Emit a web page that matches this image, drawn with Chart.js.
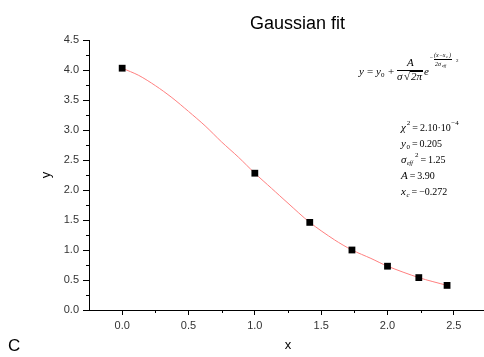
<!DOCTYPE html>
<html>
<head>
<meta charset="utf-8">
<script src="https://cdn.jsdelivr.net/npm/chart.js@4"></script>
<style>
  html, body { margin: 0; padding: 0; background: #fff; overflow: hidden; }
  #wrap { width: 492px; height: 357px; }
</style>
</head>
<body>
<div id="wrap"><canvas id="chart" width="492" height="357"></canvas></div>
<script>
// measured points (x = sqrt(n))
const pointX = [0, 1, 1.414, 1.732, 2, 2.236, 2.449];
const pointY = [4.03, 2.28, 1.46, 1.0, 0.73, 0.54, 0.41];

// fitted curve
const fitX = [0, 0.125, 0.25, 0.375, 0.5, 0.625, 0.75, 0.875, 1.0, 1.125, 1.25, 1.414, 1.6, 1.732, 1.875, 2.0, 2.236, 2.449];
const fitY = [4.03, 3.91, 3.74, 3.54, 3.31, 3.07, 2.80, 2.55, 2.28, 2.03, 1.78, 1.46, 1.17, 1.0, 0.86, 0.73, 0.54, 0.41];

const xTickValues = [0, 0.5, 1.0, 1.5, 2.0, 2.5];
const yTickValues = [0, 0.5, 1.0, 1.5, 2.0, 2.5, 3.0, 3.5, 4.0, 4.5];
const xTicksMinor = [0.25, 0.75, 1.25, 1.75, 2.25, 2.75];
const yTicksMinor = [0.25, 0.75, 1.25, 1.75, 2.25, 2.75, 3.25, 3.75, 4.25];

const SANS = '"Liberation Sans", Arial, sans-serif';
const SERIF = '"Liberation Serif", "Times New Roman", serif';

// petits traits + textes du graphique
const extras = {
    id: 'extras',
    afterDraw(chart) {
        const ctx = chart.ctx;
        const xs = chart.scales.x, ys = chart.scales.y;
        const area = chart.chartArea;
        ctx.save();
        ctx.strokeStyle = '#000';
        ctx.lineWidth = 1;
        ctx.beginPath();
        xTicksMinor.forEach(v => {
            const px = Math.round(xs.getPixelForValue(v)) + 0.5;
            ctx.moveTo(px, area.bottom);
            ctx.lineTo(px, area.bottom + 3);
        });
        yTicksMinor.forEach(v => {
            const py = Math.round(ys.getPixelForValue(v)) + 0.5;
            ctx.moveTo(area.left, py);
            ctx.lineTo(area.left - 3, py);
        });
        ctx.stroke();

        // titre
        ctx.fillStyle = '#000';
        ctx.textBaseline = 'alphabetic';
        ctx.font = '18px ' + SANS;
        ctx.fillText('Gaussian fit', 250, 29);

        ctx.font = '17px ' + SANS;
        ctx.fillText('C', 8, 351);

        // formule
        const it = sz => 'italic ' + sz + 'px ' + SERIF;
        const rm = sz => sz + 'px ' + SERIF;
        ctx.font = it(11);
        ctx.fillText('y', 359, 75);
        ctx.font = rm(11);
        ctx.fillText('=', 367, 75);
        ctx.font = it(11);
        ctx.fillText('y', 376, 75);
        ctx.font = rm(7);
        ctx.fillText('0', 381, 77);
        ctx.font = rm(11);
        ctx.fillText('+', 388, 75);
        ctx.font = it(11);
        ctx.fillText('A', 407, 66);
        ctx.beginPath();
        ctx.moveTo(397, 70.5);
        ctx.lineTo(423, 70.5);
        ctx.stroke();
        ctx.fillText('σ', 397, 80);
        ctx.font = rm(11);
        ctx.fillText('√', 404, 80);
        ctx.beginPath();
        ctx.moveTo(410, 71.5);
        ctx.lineTo(423, 71.5);
        ctx.stroke();
        ctx.font = it(11);
        ctx.fillText('2π', 411, 80);
        ctx.fillText('e', 424, 75);
        ctx.font = it(6);
        ctx.fillText('−', 429, 59);
        ctx.fillText('(x−x', 434, 57);
        ctx.font = it(4);
        ctx.fillText('c', 446, 58);
        ctx.font = it(6);
        ctx.fillText(')', 449, 57);
        ctx.beginPath();
        ctx.moveTo(434, 59.5);
        ctx.lineTo(452, 59.5);
        ctx.stroke();
        ctx.fillText('2σ', 435, 66);
        ctx.font = it(4);
        ctx.fillText('eff', 442, 67);
        ctx.font = rm(5);
        ctx.fillText('2', 456, 62);

        // paramètres : chaque morceau [texte, police, décalage y, espace avant]
        const line = (parts, x, y) => {
            parts.forEach(([s, f, dy, gap]) => {
                x += gap || 0;
                ctx.font = f;
                ctx.fillText(s, x, y + (dy || 0));
                x += ctx.measureText(s).width;
            });
        };
        line([['χ', it(11)], ['2', rm(7), -6, 1], ['=', rm(10), 0, 2], ['2.10·10', rm(10), 0, 2], ['−4', rm(7), -6, 0.5]], 401, 131);
        line([['y', it(11)], ['0', rm(7), 2, 0.5], ['=', rm(10), 0, 2], ['0.205', rm(10), 0, 2]], 401, 147);
        line([['σ', it(11)], ['eff', it(6), 2, 0.5], ['2', rm(7), -6, 2], ['=', rm(10), 0, 2], ['1.25', rm(10), 0, 2]], 401, 163);
        line([['A', it(11)], ['=', rm(10), 0, 2], ['3.90', rm(10), 0, 2]], 401, 179);
        line([['x', it(11)], ['c', it(7), 2, 0.5], ['=', rm(10), 0, 2], ['−0.272', rm(10), 0, 2]], 401, 195);
        ctx.restore();
    }
};

const ctx = document.getElementById('chart').getContext('2d');
new Chart(ctx, {
    type: 'scatter',
    data: {
        datasets: [
            {
                label: 'data',
                data: pointX.map((x, i) => ({ x: x, y: pointY[i] })),
                backgroundColor: '#000',
                borderColor: '#000',
                borderWidth: 0,
                pointStyle: 'rect',
                pointRadius: 4.8,
                showLine: false,
                order: 0
            },
            {
                label: 'fit',
                data: fitX.map((x, i) => ({ x: x, y: fitY[i] })),
                borderColor: '#ff7f7f',
                borderWidth: 1,
                pointRadius: 0,
                showLine: true,
                tension: 0.3,
                order: 1
            }
        ]
    },
    options: {
        responsive: false,
        animation: false,
        layout: { padding: { top: 40, left: 0, right: 5, bottom: 0 } },
        plugins: {
            legend: { display: false },
            tooltip: { enabled: false }
        },
        scales: {
            x: {
                type: 'linear',
                min: -0.25,
                max: 2.75,
                afterBuildTicks: s => { s.ticks = xTickValues.map(v => ({ value: v })); },
                afterFit: s => { s.height = 47; },
                border: { color: '#000', width: 1 },
                grid: { drawOnChartArea: false, tickLength: 5, color: '#000', tickColor: '#000' },
                ticks: {
                    autoSkip: false,
                    maxRotation: 0,
                    padding: 4,
                    color: '#333',
                    font: { family: SANS, size: 11 },
                    callback: v => v.toFixed(1)
                },
                title: {
                    display: true,
                    text: 'x',
                    color: '#000',
                    font: { family: SANS, size: 13 },
                    padding: { top: 0, bottom: 4 }
                }
            },
            y: {
                type: 'linear',
                min: 0,
                max: 4.5,
                afterBuildTicks: s => { s.ticks = yTickValues.map(v => ({ value: v })); },
                afterFit: s => { s.width = 89; },
                border: { color: '#000', width: 1 },
                grid: { drawOnChartArea: false, tickLength: 6, color: '#000', tickColor: '#000' },
                ticks: {
                    autoSkip: false,
                    padding: 4,
                    color: '#333',
                    font: { family: SANS, size: 11 },
                    callback: v => v.toFixed(1)
                },
                title: {
                    display: true,
                    text: 'y',
                    color: '#000',
                    font: { family: SANS, size: 13 },
                    padding: { top: 39, bottom: 0 }
                }
            }
        }
    },
    plugins: [extras]
});
</script>
</body>
</html>
